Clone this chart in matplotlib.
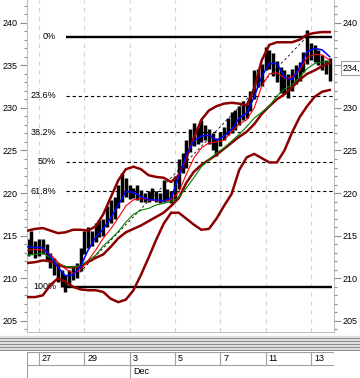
import numpy as np
import matplotlib
matplotlib.use("Agg")
import matplotlib.pyplot as plt
from matplotlib.ticker import MultipleLocator
from matplotlib.transforms import blended_transform_factory

# price bars, 6 per trading day, first bar half a day before the 27th
bar_high = [214.6, 215.5, 214.4, 214.6, 214.6, 214.0, 213.0, 212.4, 211.6, 211.0,
            210.4, 211.0, 211.4, 211.8, 213.5, 215.5, 216.0, 215.5, 216.5, 216.8,
            217.0, 218.5, 219.2, 219.5, 221.0, 222.4, 221.8, 221.0, 220.6, 221.0,
            220.4, 220.0, 220.2, 220.6, 220.2, 220.0, 221.5, 220.5, 220.3, 222.0,
            224.0, 224.7, 226.2, 227.5, 228.2, 227.8, 228.6, 228.0, 227.5, 227.0,
            226.5, 227.2, 227.8, 228.8, 229.5, 229.8, 230.2, 230.8, 230.4, 232.0,
            234.5, 234.6, 235.2, 237.2, 236.8, 236.4, 235.5, 234.8, 234.5, 234.0,
            234.6, 235.0, 235.4, 236.6, 239.1, 237.6, 237.4, 236.8, 236.2, 235.6,
            235.8]
bar_low = [212.6, 212.8, 212.4, 212.6, 212.8, 212.0, 211.2, 210.4, 209.6, 209.0,
           208.4, 209.2, 209.8, 210.0, 210.8, 212.8, 213.5, 213.8, 214.3, 214.8,
           215.0, 216.0, 216.5, 217.0, 218.3, 219.0, 219.5, 219.3, 219.4, 219.2,
           219.0, 218.9, 219.0, 219.3, 219.0, 218.8, 219.0, 219.1, 218.8, 219.2,
           220.5, 222.3, 223.0, 224.8, 225.5, 225.8, 226.0, 226.2, 225.8, 225.0,
           224.3, 225.5, 226.2, 226.8, 227.0, 227.4, 228.0, 228.6, 228.8, 229.6,
           231.0, 232.4, 232.6, 234.4, 234.6, 233.8, 233.0, 231.8, 231.6, 231.2,
           232.0, 232.8, 233.2, 234.2, 235.2, 235.6, 235.4, 235.0, 234.4, 234.0,
           233.2]

# indicators, read every second bar
ma_fast = [213.7, 213.6, 213.6, 212.6, 211.3, 210.3, 210.4, 211.4, 213.3, 214.8,
           215.8, 217.1, 218.6, 220.2, 220.1, 219.6, 219.2, 219.2, 219.1, 219.4,
           221.9, 224.5, 226.1, 226.7, 226.8, 226.2, 226.7, 227.5, 228.8, 229.4,
           231.3, 233.7, 235.2, 235.2, 233.6, 233.3, 234.7, 236.6, 237.0, 236.8,
           236.0]
ma_mid = [213.3, 213.4, 213.3, 212.8, 211.9, 211.1, 210.6, 211.0, 212.1, 213.3,
          214.7, 215.8, 217.1, 218.5, 219.2, 219.4, 219.2, 219.1, 219.1, 219.2,
          220.1, 222.2, 224.1, 225.3, 225.9, 226.0, 226.2, 227.2, 228.1, 228.6,
          230.0, 232.6, 234.0, 234.1, 233.5, 233.6, 234.4, 235.9, 236.3, 236.2,
          235.6]
ma_slow = [212.7, 212.8, 213.0, 212.4, 211.8, 211.4, 211.3, 211.5, 212.1, 212.7,
           213.8, 214.6, 215.5, 216.6, 217.5, 218.0, 218.2, 218.6, 218.8, 219.0,
           219.5, 220.6, 221.8, 223.1, 223.9, 224.7, 225.3, 226.1, 226.9, 227.8,
           228.8, 229.5, 230.2, 231.4, 232.2, 232.7, 233.6, 234.6, 235.2, 235.4,
           235.4]
bb_upper = [215.6, 215.8, 215.9, 215.6, 215.3, 215.4, 215.7, 215.7, 215.6, 216.1,
            217.5, 219.5, 221.5, 222.8, 223.1, 222.8, 222.1, 221.9, 221.8, 221.3,
            222.1, 224.1, 226.5, 228.6, 229.7, 230.2, 230.5, 230.6, 230.5, 230.3,
            232.3, 235.6, 237.4, 237.7, 237.7, 237.7, 238.0, 238.6, 238.8, 238.9,
            238.9]
bb_middle = [211.8, 211.9, 212.1, 212.0, 211.6, 211.3, 211.3, 211.4, 211.9, 212.4,
             212.8, 213.7, 214.7, 215.4, 215.8, 216.2, 216.7, 217.2, 217.7, 218.5,
             219.4, 221.2, 222.5, 223.3, 223.9, 224.5, 225.2, 225.9, 226.6, 227.2,
             228.1, 229.3, 230.2, 231.0, 231.6, 232.4, 233.3, 234.0, 234.4, 234.9,
             235.3]
bb_lower = [207.8, 207.8, 208.0, 209.2, 210.0, 209.6, 209.0, 208.7, 208.6, 208.6,
            208.4, 207.6, 207.2, 207.5, 208.6, 210.4, 212.4, 214.5, 216.4, 217.7,
            217.7, 217.0, 216.3, 215.7, 215.8, 217.0, 218.5, 219.9, 222.7, 224.2,
            224.6, 224.1, 223.6, 223.6, 225.0, 227.1, 228.9, 230.2, 231.3, 231.9,
            232.1]

day_ticks = [0, 2, 4, 6, 8, 10, 12]
day_labels = ["27", "29", "3", "5", "7", "11", "13"]
month_tick = 4
month_label = "Dec"

price_ticks = [205, 210, 215, 220, 225, 230, 235, 240]

fib_pcts = [0, 23.6, 38.2, 50, 61.8, 100]
fib_labels = ["0%", "23.6%", "38.2%", "50%", "61.8%", "100%"]
fib_high = 238.36
fib_low = 209.0
fib_start = 1.19
fib_end = 11.83

last_price = 234.7
last_label = "234,"

plt.rcParams["font.family"] = ["Liberation Sans", "DejaVu Sans"]
plt.rcParams["font.size"] = 6.5

x_bars = -0.5 + np.arange(len(bar_high)) / 6
x_lines = -0.5 + np.arange(len(ma_fast)) * 2 / 6
xmin, xmax = -0.53, 13.02
ymin, ymax = 203.7, 242.66

fig = plt.figure(figsize=(3.6, 3.78), dpi=100)
ax = fig.add_axes([27 / 360, 46 / 378, 307 / 360, 332 / 378])
ax.set_xlim(xmin, xmax)
ax.set_ylim(ymin, ymax)

ax.set_xticks(day_ticks)
ax.tick_params(axis="x", length=0, labelbottom=False)
ax.grid(axis="x", color="#d4d4d4", linestyle=(0, (4, 4)), linewidth=0.8)
ax.set_axisbelow(True)

ax.set_yticks(price_ticks)
ax.yaxis.set_minor_locator(MultipleLocator(1))
ax.tick_params(axis="y", which="both", left=True, right=False, labelleft=True,
               labelright=False, color="#909090", pad=1.5)
ax.tick_params(axis="y", which="major", length=5, width=0.8)
ax.tick_params(axis="y", which="minor", length=2.5, width=0.8)
for s in ["left", "right", "bottom"]:
    ax.spines[s].set_color("#c0c0c0")
ax.spines["top"].set_visible(False)

# right-hand scale; the last-price box covers the label nearest to it
rax = ax.twinx()
rax.set_ylim(ymin, ymax)
nearest = min(price_ticks, key=lambda t: abs(t - last_price))
rax.set_yticks(price_ticks)
rax.set_yticklabels(["" if t == nearest else str(t) for t in price_ticks])
rax.yaxis.set_minor_locator(MultipleLocator(1))
rax.tick_params(axis="y", which="both", color="#909090", pad=1.5)
rax.tick_params(axis="y", which="major", length=5, width=0.8)
rax.tick_params(axis="y", which="minor", length=2.5, width=0.8)
for s in rax.spines.values():
    s.set_visible(False)

# fibonacci retracement
fib_prices = [fib_high - p / 100 * (fib_high - fib_low) for p in fib_pcts]
fib_right = 12.94
for p, price, lab in zip(fib_pcts, fib_prices, fib_labels):
    if p in (0, 100):
        ax.hlines(price, fib_start, fib_right, color="black", lw=1.7, zorder=1.5)
    else:
        ax.hlines(price, fib_start, xmax, color="black", lw=0.8,
                  linestyles=[(0, (3, 2.5))], zorder=1.5)
    ax.annotate(lab, xy=(fib_start, price), xytext=(-10, 0), textcoords="offset pixels",
                ha="right", va="center", fontsize=6.5)
ax.plot([fib_start, fib_end], [fib_low, fib_high], color="black", lw=0.6,
        linestyle=(0, (3, 3)), zorder=1.6)

ax.vlines(x_bars, bar_low, bar_high, color="black", lw=2.5, zorder=2)

dr = "#8b0000"
ax.plot(x_lines, bb_upper, color=dr, lw=1.8, zorder=3)
ax.plot(x_lines, bb_middle, color=dr, lw=1.8, zorder=3)
ax.plot(x_lines, bb_lower, color=dr, lw=1.8, zorder=3)
ax.plot(x_lines, ma_slow, color="#008000", lw=0.8, zorder=4)
ax.plot(x_lines, ma_mid, color="#ff0000", lw=0.8, zorder=4)
ax.plot(x_lines, ma_fast, color="#0000ff", lw=1.1, zorder=5)

# last price box on the right axis
tr = blended_transform_factory(fig.transFigure, ax.transData)
fig.text(343 / 360, last_price, last_label, transform=tr, ha="left", va="center",
         fontsize=6.5, zorder=10,
         bbox=dict(boxstyle="square,pad=0.25", fc="white", ec="#a0a0a0", lw=0.8))

# splitter stripes
sax = fig.add_axes([0, 27 / 378, 1, 16 / 378])
sax.set_xlim(0, 1)
sax.set_ylim(0, 16)
sax.axis("off")
sax.axhspan(1, 15, color="#e2e2e2")
for yy in [1.5, 4.5, 7.5, 10.5, 13.5]:
    sax.axhline(yy, color="#8c8c8c", lw=0.8)

# date strip
dax = fig.add_axes([27 / 360, 0, 307 / 360, 26 / 378])
dax.set_xlim(xmin, xmax)
dax.set_ylim(0, 26.5)
dax.axis("off")
gc = "#a0a0a0"
dax.hlines([26, 13], xmin, xmax, color=gc, lw=0.8)
dax.vlines(day_ticks, 13, 26, color=gc, lw=0.8)
dax.vlines([xmin + 0.02, month_tick], 0, 26, color=gc, lw=0.8)
dax.vlines(xmax - 0.02, 13, 26, color=gc, lw=0.8)
for t, lab in zip(day_ticks, day_labels):
    dax.annotate(lab, xy=(t, 19.5), xytext=(3, 0), textcoords="offset pixels",
                 ha="left", va="center", fontsize=6.5)
dax.annotate(month_label, xy=(month_tick, 6.5), xytext=(4, 0), textcoords="offset pixels",
             ha="left", va="center", fontsize=6.5)

fig.savefig("out.png", dpi=100)
